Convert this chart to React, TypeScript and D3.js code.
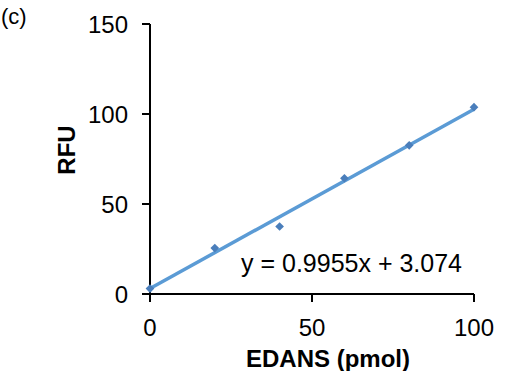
import * as d3 from "d3";

const edans = [0, 20, 40, 60, 80, 100];
const rfu = [3, 25.5, 37.5, 64.3, 82.6, 103.8];
const xTicks = [0, 50, 100];
const yTicks = [0, 50, 100, 150];
const slope = 0.9955;
const intercept = 3.074;

const App = () => {
  const width = 522,
    height = 371;
  const MARGIN = { top: 24, right: 48, bottom: 78, left: 150 };

  const x = d3.scaleLinear().domain([0, 100]).range([0, 324]);
  const y = d3.scaleLinear().domain([0, 150]).range([270, 0]);

  const fit = d3
    .line<number>()
    .x((d) => x(d))
    .y((d) => y(slope * d + intercept));

  // Excel-style diamond marker: a square turned 45 degrees
  const marker = d3.symbol(d3.symbolSquare, 38)();
  const font = "Liberation Sans, Arial, sans-serif";

  return (
    <svg
      width={width}
      height={height}
      style={{ position: "absolute", left: 0, top: 0 }}
      fontFamily={font}
    >
      <rect width={width} height={height} fill="#fff" />
      <text x={1} y={24} fontSize={22}>
        (c)
      </text>
      <g transform={`translate(${MARGIN.left},${MARGIN.top})`}>
        {/* axes */}
        <line x1={0} x2={0} y1={y(150)} y2={y(0) + 8} stroke="#000" strokeWidth={2} />
        <line x1={-8} x2={x(100)} y1={y(0)} y2={y(0)} stroke="#000" strokeWidth={2} />
        {yTicks.map((t) => (
          <g key={t}>
            <line x1={-8} x2={0} y1={y(t)} y2={y(t)} stroke="#000" strokeWidth={2} />
            <text
              x={-22}
              y={y(t)}
              textAnchor="end"
              dominantBaseline="central"
              fontSize={24}
            >
              {t}
            </text>
          </g>
        ))}
        {xTicks.map((t) => (
          <g key={t}>
            <line x1={x(t)} x2={x(t)} y1={y(0)} y2={y(0) + 8} stroke="#000" strokeWidth={2} />
            <text
              x={x(t)}
              y={y(0) + 33}
              textAnchor="middle"
              dominantBaseline="central"
              fontSize={24}
            >
              {t}
            </text>
          </g>
        ))}
        {/* trendline */}
        <path
          d={fit([0, 100]) ?? ""}
          fill="none"
          stroke="#5B9BD5"
          strokeWidth={3.5}
        />
        {edans.map((d, i) => (
          <path
            key={i}
            d={marker ?? ""}
            transform={`translate(${x(d)},${y(rfu[i])}) rotate(45)`}
            fill="#4A7EBB"
          />
        ))}
        <text x={91} y={y(0) - 31} dominantBaseline="central" fontSize={25}>
          y = 0.9955x + 3.074
        </text>
        <text
          x={178}
          y={y(0) + 64}
          textAnchor="middle"
          dominantBaseline="central"
          fontSize={24}
          fontWeight="bold"
        >
          EDANS (pmol)
        </text>
        <text
          transform={`translate(-84,${y(80)}) rotate(-90)`}
          textAnchor="middle"
          dominantBaseline="central"
          fontSize={24}
          fontWeight="bold"
        >
          RFU
        </text>
      </g>
    </svg>
  );
};

export default App;
